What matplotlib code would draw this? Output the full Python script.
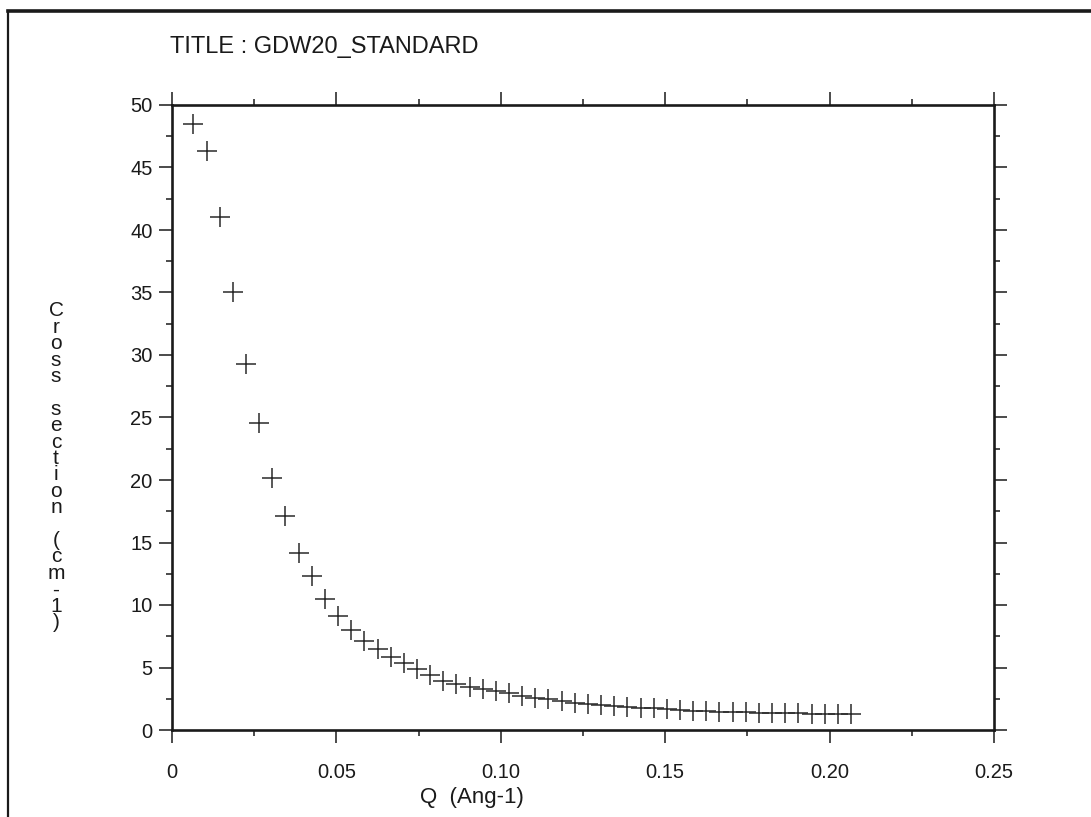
"""GDW20_STANDARD cross section vs Q, old plotter style scan."""
import matplotlib
matplotlib.use('Agg')
import matplotlib.pyplot as plt
from matplotlib.lines import Line2D
from matplotlib.ticker import MultipleLocator

INK = '#1a1a1a'
MARK = '#2a2a2a'

plt.rcParams['font.family'] = ['Liberation Sans', 'DejaVu Sans']

# ===== Data =====
q = [0.0065, 0.0105, 0.0145, 0.0185, 0.0225, 0.0265, 0.0305, 0.0345, 0.0385, 0.0425,
     0.0465, 0.0505, 0.0545, 0.0585, 0.0625, 0.0665, 0.0705, 0.0745, 0.0785, 0.0825,
     0.0865, 0.0905, 0.0945, 0.0985, 0.1025, 0.1065, 0.1105, 0.1145, 0.1185, 0.1225,
     0.1265, 0.1305, 0.1345, 0.1385, 0.1425, 0.1465, 0.1505, 0.1545, 0.1585, 0.1625,
     0.1665, 0.1705, 0.1745, 0.1785, 0.1825, 0.1865, 0.1905, 0.1945, 0.1985, 0.2025,
     0.2065]
cross = [48.5, 46.3, 41.0, 35.0, 29.3, 24.55, 20.2, 17.1, 14.2, 12.3,
         10.5, 9.15, 8.0, 7.15, 6.45, 5.87, 5.33, 4.85, 4.4, 3.95,
         3.65, 3.45, 3.3, 3.13, 2.93, 2.75, 2.59, 2.45, 2.32, 2.19,
         2.08, 2.0, 1.92, 1.86, 1.8, 1.73, 1.66, 1.6, 1.55, 1.51,
         1.47, 1.44, 1.41, 1.39, 1.38, 1.36, 1.33, 1.31, 1.29, 1.28,
         1.26]
x_ticks = [0, 0.05, 0.10, 0.15, 0.20, 0.25]
x_labels = ['0', '0.05', '0.10', '0.15', '0.20', '0.25']
y_ticks = [0, 5, 10, 15, 20, 25, 30, 35, 40, 45, 50]

title = 'TITLE : GDW20_STANDARD'
xlabel = 'Q  (Ang-1)'
ylabel = 'Cross section (cm-1)'

W, H = 1091, 817
fig = plt.figure(figsize=(W / 100, H / 100), dpi=100, facecolor='white')

# ===== Axes =====
ax = fig.add_axes([172 / W, (H - 730) / H, 822 / W, 625 / H])
ax.plot(q, cross, linestyle='none', marker='+', ms=14, mew=1.1, color=MARK)

ax.set_xlim(0, 0.25)
ax.set_ylim(0, 50)
ax.set_xticks(x_ticks)
ax.set_xticklabels(x_labels)
ax.set_yticks(y_ticks)
ax.xaxis.set_minor_locator(MultipleLocator(0.025))
ax.yaxis.set_minor_locator(MultipleLocator(2.5))

ax.tick_params(which='both', direction='out', top=True, right=True,
               labeltop=False, labelright=False, colors=INK, width=1.1)
ax.tick_params(which='major', length=9.5, labelsize=14.5)
ax.tick_params(which='minor', length=4.5)
ax.tick_params(axis='x', which='major', pad=14.5)
ax.tick_params(axis='y', which='major', pad=4.5)
for spine in ax.spines.values():
    spine.set_linewidth(1.9)
    spine.set_color(INK)

# ===== Texts =====
fig.text(170 / W, 1 - 47 / H, title, fontsize=17, color=INK, va='center')
fig.text(472 / W, 1 - 797 / H, xlabel, fontsize=16, color=INK,
         ha='center', va='center')

# stacked upright letters for the y label (plotter style)
y_top, step = 311, 16.4
for i, ch in enumerate(ylabel):
    if ch == ' ':
        continue
    fig.text(56 / W, 1 - (y_top + i * step) / H, ch, fontsize=15, color=INK,
             ha='center', va='center')

# ===== Page frame (top and left edges of the scanned sheet) =====
fig.add_artist(Line2D([8 / W, 1], [1 - 10.5 / H, 1 - 10.5 / H],
                      transform=fig.transFigure, color=INK, lw=2.6))
fig.add_artist(Line2D([8 / W, 8 / W], [0, 1 - 10.5 / H],
                      transform=fig.transFigure, color=INK, lw=1.6))

plt.savefig('out.png', dpi=100, facecolor='white')
print('Saved out.png')
